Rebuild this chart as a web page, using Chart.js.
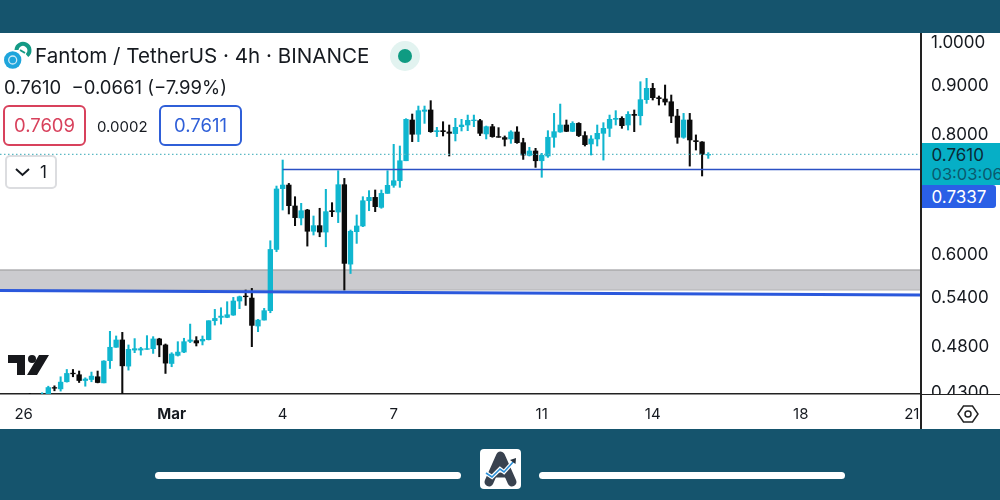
<!DOCTYPE html>
<html><head><meta charset="utf-8">
<script src="https://cdn.jsdelivr.net/npm/chart.js@4"></script>
<style>
html,body{margin:0;padding:0;width:1000px;height:500px;overflow:hidden;background:#15546d;font-family:Inter,Roboto,sans-serif;color:#161a20}
#panel{position:absolute;left:0;top:33px;width:1000px;height:396px;background:#fff}
#c{position:absolute;left:0;top:0}
.t{position:absolute;white-space:nowrap;line-height:1}
.box{position:absolute;box-sizing:border-box;border-radius:6px;background:#fff;text-align:center}
.bar{position:absolute;background:#fff;border-radius:4px;top:472px;height:7px;width:306px}
svg{position:absolute;overflow:visible}
</style></head><body>
<div id="panel"></div>
<canvas id="c" width="1000" height="500"></canvas>
<div style="position:absolute;left:921px;top:395px;width:79px;height:34px;background:#fff"></div>
<div style="position:absolute;left:920px;top:393.5px;width:80px;height:1.5px;background:#222"></div>
<div style="position:absolute;left:920px;top:33px;width:1.5px;height:396px;background:#222"></div>

<svg style="left:0;top:0" width="60" height="90">
  <path d="M16.5 50 A6.5 6.5 0 1 1 27 55.5" fill="none" stroke="#149a85" stroke-width="4"/>
  <path d="M20 50 L25 53" stroke="#149a85" stroke-width="2"/>
  <circle cx="12.7" cy="60" r="8.7" fill="#1ea5dc"/>
  <circle cx="12.7" cy="60" r="4" fill="none" stroke="#cdeaf7" stroke-width="1.3"/>
</svg>
<div class="t" style="left:35px;top:46px;font-size:20.6px">Fantom / TetherUS · 4h · BINANCE</div>
<svg style="left:390px;top:41px" width="30" height="30"><circle cx="15" cy="15" r="15" fill="#e2f3f0"/><circle cx="15" cy="15" r="7" fill="#0f9b82"/></svg>
<div class="t" style="left:4px;top:78px;font-size:18.5px">0.7610&nbsp; −0.0661 (−7.99%)</div>
<div class="box" style="left:3px;top:105px;width:83px;height:41px;border:2px solid #d8415c;color:#d8415c;font-size:18.5px;line-height:37px">0.7609</div>
<div class="t" style="left:97px;top:119px;font-size:15px">0.0002</div>
<div class="box" style="left:159px;top:105px;width:83px;height:41px;border:2px solid #2f5fd8;color:#2f5fd8;font-size:18.5px;line-height:37px">0.7611</div>
<div class="box" style="left:5px;top:155px;width:52px;height:34px;border:2px solid #dcdde0;border-radius:5px"></div>
<svg style="left:15px;top:168px" width="16" height="10"><path d="M1 1 L7.5 7 L14 1" fill="none" stroke="#161a20" stroke-width="2"/></svg>
<div class="t" style="left:40px;top:164px;font-size:17px">1</div>

<svg style="left:8px;top:354px" width="44" height="22">
  <path d="M0 1 H17 V21 H9 V9 H0 Z M31 1 H41 L29 21 H19 Z" fill="#17181c"/>
  <circle cx="24" cy="5" r="4" fill="#17181c"/>
</svg>

<div style="position:absolute;left:921.5px;top:143px;width:79px;height:42px;background:#06afc6;overflow:hidden">
  <div class="t" style="left:10px;top:4px;font-size:17px;color:#0b2a36">0.7610</div>
  <div class="t" style="left:10px;top:23px;font-size:16.5px;color:#0a5a6e">03:03:06</div>
</div>
<div style="position:absolute;left:921.5px;top:185px;width:74px;height:23px;background:#2a5fe6;border-radius:0 3px 3px 0;color:#fff;font-size:17px;line-height:24px;text-indent:10px">0.7337</div>
<svg style="left:957px;top:405px" width="22" height="18"><path d="M6.5 1 H15.5 L21 9 L15.5 17 H6.5 L1 9 Z" fill="none" stroke="#222" stroke-width="1.5"/><circle cx="11" cy="9" r="3" fill="none" stroke="#222" stroke-width="1.5"/></svg>

<div class="bar" style="left:155px"></div>
<div class="bar" style="left:539px"></div>
<svg style="left:480px;top:449px" width="41" height="40">
  <rect width="41" height="40" rx="4" fill="#fff"/>
  <path d="M9 33 L20.5 7 L32 33" fill="none" stroke="#39424f" stroke-width="9" stroke-linejoin="round" stroke-linecap="round"/>
  <path d="M14 26 H27" stroke="#39424f" stroke-width="5"/>
  <path d="M6 24 L12 28 L20 20 L24 23 L34 12" fill="none" stroke="#fff" stroke-width="4"/>
  <path d="M6 24 L12 28 L20 20 L24 23 L34 12" fill="none" stroke="#2a8fd8" stroke-width="1.6"/>
  <path d="M30 11 L36 9 L35.5 15 Z" fill="#26303c"/>
</svg>

<script>
// Candles, 4h, oldest first. The first value belongs to candle index -2.
const firstCandle = -2;
const opens = [.4255,.4235,.4230,
.4272,.4339,.4325,.4400,.4492,.4475,.4413,.4424,.4453,.4388,.4629,.4781,.4866,.4569,.4749,.4749,.4757,.4765,.4878,.4808,.4598,.4689,.4726,.4850,.4858,.4854,.4870,.5097,.5138,.5138,.5167,.5345,.5409,.5383,.5032,.5105,
.5222,.6052,.7007,.7068,.6720,.6529,.6655,.6323,.6409,.6311,.6644,.6623,.7074,.5842,.6317,.6404,.6806,.6861,.6698,.6927,.7063,.7142,.7494,.8267,.7988,.8442,.8469,.8038,.8057,.8032,.8000,.8135,.8168,.8254,.8254,.7994,.8135,.7943,.7924,.7898,.8032,.7828,.7592,.7672,.7494,.7580,.7930,.8032,.8168,.8044,.8200,.7962,.7803,.7898,.8006,.8103,.8280,.8300,.8168,.8380,.8353,.8682,.8922,.8724,.8696,.8639,.8346,.7930,.8267,.7866,.7841,.7598];
const closes = [.4240,.4262,.4262,
.4339,.4332,.4396,.4489,.4485,.4413,.4429,.4460,.4392,.4625,.4781,.4866,.4572,.4757,.4765,.4765,.4765,.4878,.4808,.4602,.4704,.4726,.4846,.4866,.4831,.4874,.5097,.5125,.5154,.5171,.5345,.5400,.5400,.5040,.5105,.5222,
.6052,.7001,.7068,.6725,.6534,.6644,.6323,.6409,.6311,.6629,.6629,.7074,.5852,.6323,.6404,.6806,.6861,.6709,.6927,.7063,.7142,.7494,.8280,.7988,.8455,.8469,.8038,.8057,.8038,.8006,.8122,.8168,.8260,.8267,.8006,.8135,.7943,.7930,.7892,.8032,.7828,.7598,.7672,.7494,.7592,.7930,.8038,.8168,.8044,.8200,.7962,.7790,.7898,.8006,.8103,.8280,.8300,.8155,.8380,.8360,.8682,.8922,.8724,.8703,.8633,.8346,.7930,.8267,.7879,.7847,.7610,.7610];
const highs = [.4278,.4265,.4285,
.4353,.4357,.4453,.4532,.4532,.4515,.4442,.4504,.4515,.4629,.4968,.4913,.4956,.4808,.4882,.4781,.4917,.4905,.4886,.4819,.4719,.4846,.4886,.5056,.4905,.4913,.5097,.5238,.5259,.5336,.5392,.5409,.5488,.5510,.5113,.5251,
.6180,.7051,.7507,.7096,.6872,.6763,.6666,.6560,.6683,.6995,.6774,.7316,.7182,.6342,.6576,.6872,.6973,.6984,.6984,.7316,.7796,.7765,.8293,.8387,.8550,.8550,.8661,.8122,.8233,.8168,.8300,.8280,.8366,.8366,.8280,.8148,.8181,.8116,.7955,.8057,.8135,.7911,.7741,.7722,.7629,.8057,.8400,.8591,.8267,.8233,.8214,.8038,.7962,.8168,.8214,.8366,.8455,.8333,.8435,.8469,.9066,.9140,.9030,.8759,.8994,.8780,.8482,.8400,.8400,.7975,.7847,.7641];
const lows = [.4220,.4225,.4210,
.4265,.4305,.4302,.4396,.4453,.4392,.4353,.4400,.4388,.4388,.4543,.4781,.4200,.4525,.4719,.4692,.4757,.4711,.4673,.4489,.4562,.4681,.4719,.4835,.4796,.4808,.4866,.5044,.5056,.5134,.5163,.5247,.5289,.4788,.4964,.5105,
.5196,.6019,.6655,.6592,.6409,.6420,.6101,.6266,.6240,.6091,.6550,.6456,.5488,.5711,.6141,.6393,.6644,.6629,.6683,.6927,.7029,.7029,.7494,.7847,.7847,.8200,.8025,.7943,.7955,.7580,.7860,.8051,.8057,.8135,.7962,.7898,.7930,.7930,.7765,.7815,.7815,.7518,.7580,.7375,.7201,.7555,.7741,.8025,.8038,.8038,.7943,.7765,.7598,.7765,.7506,.7943,.8168,.8103,.8070,.8038,.8168,.8605,.8675,.8571,.8571,.8214,.7815,.7911,.7398,.7690,.7224,.7537];

// Price axis and time axis labels
const priceTicks = [1.0, 0.9, 0.8, 0.6, 0.54, 0.48, 0.43];
const timeTickCandles = [-3, 21, 39, 57, 81, 99, 123, 141];
const timeTickLabels = ['26', 'Mar', '4', '7', '11', '14', '18', '21'];

// Drawn levels
const lastPrice = 0.7610;
const supportLevel = 0.7337;
const supportStart = 39;
const bandTop = 0.5759, bandBottom = 0.5495;
const trendStart = 0.5482, trendEnd = 0.5423;
const priceMin = 0.4272, priceMax = 1.0195;
const candleMin = -6.83, candleMax = 142.33;

const UP = '#10b6cf', DOWN = '#0b0b0b';
const xOf = i => firstCandle + i;
const colorOf = opens.map((o, i) => closes[i] >= o ? UP : DOWN);
const hLine = (x0, y0, x1, y1, color, width, extra) => Object.assign({
  type: 'line', data: [{x: x0, y: y0}, {x: x1, y: y1}], borderColor: color, borderWidth: width,
  pointRadius: 0, fill: false, tension: 0
}, extra || {});

new Chart(document.getElementById('c'), {
  data: { datasets: [
    Object.assign(hLine(candleMin, bandTop, candleMax, bandTop, '#b2b2b4', 1.8, {fill: '+1', backgroundColor: '#cbcbcf'}), {order: 9}),
    Object.assign(hLine(candleMin, bandBottom, candleMax, bandBottom, '#b2b2b4', 1.8), {order: 9}),
    { type: 'bar', order: 3, grouped: false, barThickness: 1.4,
      data: lows.map((l, i) => ({x: xOf(i), y: [l, highs[i]]})), backgroundColor: colorOf },
    { type: 'bar', order: 2, grouped: false, barThickness: 4.7,
      data: opens.map((o, i) => ({x: xOf(i), y: [o, closes[i]]})), backgroundColor: colorOf },
    Object.assign(hLine(candleMin, lastPrice, candleMax, lastPrice, '#5cb9c4', 1.2, {borderDash: [1.5, 2.5]}), {order: 1}),
    Object.assign(hLine(supportStart, supportLevel, candleMax, supportLevel, '#2b50c4', 1.5), {order: 1}),
    Object.assign(hLine(candleMin, trendStart, candleMax, trendEnd, '#2b58dc', 2.8), {order: 1})
  ]},
  options: {
    responsive: false, animation: false, devicePixelRatio: 1,
    layout: { padding: { top: 33, bottom: 71, left: 0, right: 0 } },
    plugins: { legend: { display: false }, tooltip: { enabled: false } },
    scales: {
      x: {
        type: 'linear', min: candleMin, max: candleMax, offset: false,
        grid: { display: false, drawTicks: false },
        border: { display: true, color: '#222', width: 1.5 },
        afterFit: s => { s.height = 35; },
        afterBuildTicks: s => { s.ticks = timeTickCandles.map(v => ({value: v})); },
        ticks: {
          autoSkip: false, maxRotation: 0, padding: 11, color: '#161a20',
          font: c => ({ family: 'Inter', size: 15, weight: c.index === 1 ? 'bold' : 'normal' }),
          callback: v => timeTickLabels[timeTickCandles.indexOf(v)]
        }
      },
      y: {
        type: 'logarithmic', position: 'right', min: priceMin, max: priceMax,
        grid: { display: false, drawTicks: false },
        border: { display: false },
        afterFit: s => { s.width = 80; },
        afterBuildTicks: s => { s.ticks = priceTicks.map(v => ({value: v})); },
        ticks: {
          autoSkip: false, padding: 11, color: '#161a20', labelOffset: 1.5,
          font: { family: 'Inter', size: 17 },
          callback: v => Number(v).toFixed(4)
        }
      }
    }
  }
});
</script>
</body></html>
